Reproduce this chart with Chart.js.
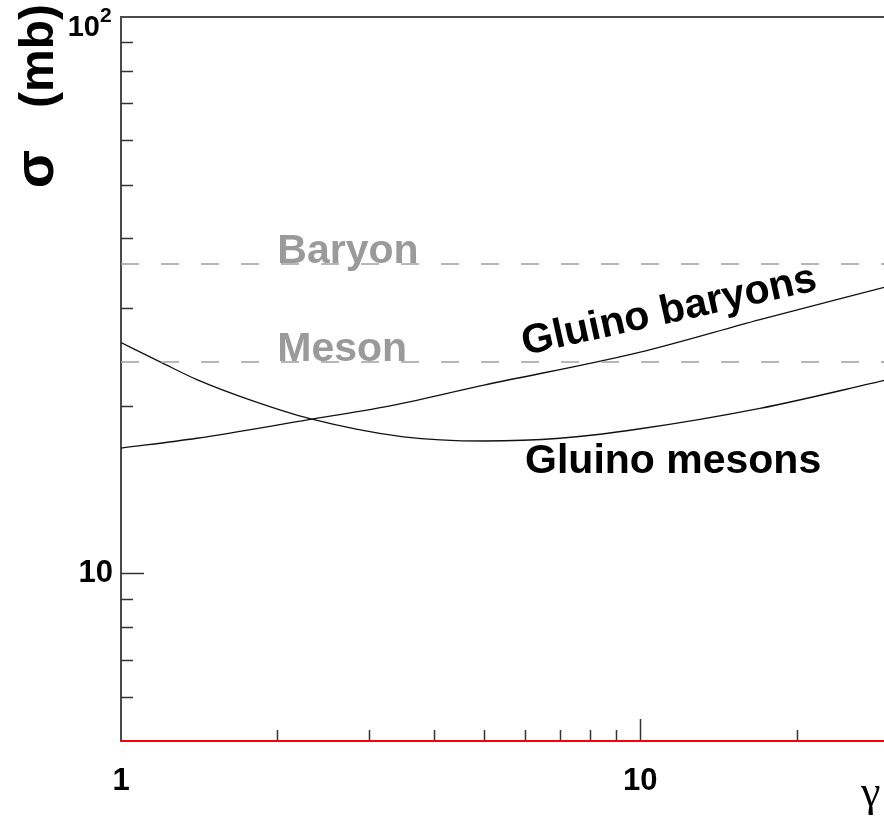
<!DOCTYPE html>
<html>
<head>
<meta charset="utf-8">
<script src="https://cdn.jsdelivr.net/npm/chart.js@4"></script>
<style>
html, body { margin: 0; padding: 0; background: #fff; overflow: hidden; }
#wrap { width: 890px; height: 821px; }
</style>
</head>
<body>
<div id="wrap"><canvas id="sigmaChart"></canvas></div>
<script>
// values (gamma on x, sigma in mb on y)
const mesonGamma = [1, 1.2, 1.4, 1.8, 2.3, 3.5, 5, 7, 10, 17, 30];
const mesonSigma = [26.0, 23.9, 22.3, 20.4, 19.0, 17.6, 17.3, 17.5, 18.2, 19.8, 22.3];
const baryonGamma = [1, 1.4, 2.3, 3.2, 5, 10, 17, 30];
const baryonSigma = [16.8, 17.5, 18.9, 19.9, 21.8, 25.0, 28.6, 32.8];
const baryonLevel = 36;
const mesonLevel = 24;
const gammaRange = [1, 30];
const sigmaRange = [5, 100];
const xTickValues = [1, 2, 3, 4, 5, 6, 7, 8, 9, 10, 20, 30];
const yTickValues = [5, 6, 7, 8, 9, 10, 20, 30, 40, 50, 60, 70, 80, 90, 100];

// text labels anchored in data units
const labels = [
    { text: 'Baryon', x: 2.0, y: baryonLevel, color: '#9a9a9a', angle: 0 },
    { text: 'Meson', x: 2.0, y: mesonLevel, color: '#9a9a9a', angle: 0 },
    { text: 'Gluino mesons', x: 6.0, y: 15.1, color: '#000', angle: 0 },
    { text: 'Gluino baryons', x: 6.0, y: 24.6, color: '#000', angle: -12.5 }
];

function toPoints(xs, ys) {
    return xs.map((x, i) => ({ x: x, y: ys[i] }));
}

function flatLine(level) {
    return gammaRange.map(x => ({ x: x, y: level }));
}

const isDecade = v => Math.abs(Math.log10(v) - Math.round(Math.log10(v))) < 1e-9;
const FONT = '"Liberation Sans", Arial, sans-serif';

const frameAndText = {
    id: 'frameAndText',
    beforeDatasetsDraw(chart) {
        const { ctx, chartArea: a, scales } = chart;
        ctx.save();
        ctx.strokeStyle = '#4a4a4a';
        ctx.lineWidth = 2;
        ctx.beginPath();
        ctx.moveTo(a.left, a.top);
        ctx.lineTo(a.right, a.top);
        ctx.lineTo(a.right, a.bottom);
        ctx.lineTo(a.left, a.bottom);
        ctx.closePath();
        ctx.stroke();

        ctx.lineWidth = 1.5;
        ctx.strokeStyle = '#333';
        ctx.beginPath();
        xTickValues.forEach(v => {
            if (v <= gammaRange[0] || v >= gammaRange[1]) return;
            const px = Math.round(scales.x.getPixelForValue(v)) + 0.5;
            const len = isDecade(v) ? 22 : 11;
            ctx.moveTo(px, a.bottom);
            ctx.lineTo(px, a.bottom - len);
        });
        yTickValues.forEach(v => {
            if (v <= sigmaRange[0] || v >= sigmaRange[1]) return;
            const py = Math.round(scales.y.getPixelForValue(v)) + 0.5;
            const len = isDecade(v) ? 23 : 12;
            ctx.moveTo(a.left, py);
            ctx.lineTo(a.left + len, py);
        });
        ctx.stroke();
        ctx.restore();
    },
    afterDatasetsDraw(chart) {
        const { ctx, scales } = chart;
        ctx.save();
        ctx.font = 'bold 41px ' + FONT;
        ctx.textBaseline = 'alphabetic';
        labels.forEach(l => {
            const px = scales.x.getPixelForValue(l.x);
            const py = scales.y.getPixelForValue(l.y);
            ctx.save();
            ctx.translate(px, py);
            ctx.rotate(l.angle * Math.PI / 180);
            ctx.fillStyle = l.color;
            ctx.textAlign = 'left';
            ctx.fillText(l.text, 0, -1);
            ctx.restore();
        });

        // top label 10^2 with a real superscript
        ctx.fillStyle = '#000';
        const top = scales.y.getPixelForValue(sigmaRange[1]);
        ctx.textAlign = 'right';
        ctx.font = 'bold 29px ' + FONT;
        ctx.fillText('10', 100, top + 19);
        ctx.textAlign = 'left';
        ctx.font = 'bold 21px ' + FONT;
        ctx.fillText('2', 100, top + 5);

        // axis titles
        ctx.save();
        ctx.translate(53, 4);
        ctx.rotate(-Math.PI / 2);
        ctx.textAlign = 'right';
        ctx.font = 'bold 48px ' + FONT;
        ctx.fillText('(mb)', 0, 0);
        ctx.font = 'bold 56px ' + FONT;
        ctx.fillText('σ', -146, 0);
        ctx.restore();

        ctx.font = '44px "Liberation Serif", "Times New Roman", serif';
        ctx.textAlign = 'left';
        ctx.fillText('γ', 861, 806);
        ctx.restore();
    }
};

const ctx = document.getElementById('sigmaChart').getContext('2d');
new Chart(ctx, {
    type: 'line',
    data: {
        datasets: [
            {
                label: 'Baryon',
                data: flatLine(baryonLevel),
                borderColor: '#a0a0a0',
                borderWidth: 1.5,
                borderDash: [18, 22],
                pointRadius: 0
            },
            {
                label: 'Meson',
                data: flatLine(mesonLevel),
                borderColor: '#a0a0a0',
                borderWidth: 1.5,
                borderDash: [18, 22],
                pointRadius: 0
            },
            {
                label: 'Gluino mesons',
                data: toPoints(mesonGamma, mesonSigma),
                borderColor: '#111',
                borderWidth: 1.3,
                cubicInterpolationMode: 'monotone',
                pointRadius: 0
            },
            {
                label: 'Gluino baryons',
                data: toPoints(baryonGamma, baryonSigma),
                borderColor: '#111',
                borderWidth: 1.3,
                cubicInterpolationMode: 'monotone',
                pointRadius: 0
            },
            {
                label: 'floor',
                data: flatLine(sigmaRange[0]),
                borderColor: '#ff0000',
                borderWidth: 2,
                pointRadius: 0,
                clip: false
            }
        ]
    },
    plugins: [frameAndText],
    options: {
        responsive: true,
        maintainAspectRatio: false,
        animation: false,
        layout: { padding: { top: 17, right: 2, left: 0, bottom: 0 } },
        plugins: {
            legend: { display: false },
            tooltip: { enabled: false }
        },
        scales: {
            x: {
                type: 'logarithmic',
                min: gammaRange[0],
                max: gammaRange[1],
                grid: { display: false, drawTicks: false },
                border: { display: false },
                afterBuildTicks: scale => {
                    scale.ticks = xTickValues.map(v => ({ value: v }));
                },
                afterFit: scale => {
                    scale.height = 80;
                    scale.paddingLeft = 0;
                    scale.paddingRight = 0;
                },
                ticks: {
                    autoSkip: false,
                    maxRotation: 0,
                    padding: 22,
                    color: '#000',
                    font: { family: FONT, size: 31, weight: 'bold' },
                    callback: v => (v === 1 || v === 10) ? String(v) : ''
                }
            },
            y: {
                type: 'logarithmic',
                min: sigmaRange[0],
                max: sigmaRange[1],
                grid: { display: false, drawTicks: false },
                border: { display: false },
                afterBuildTicks: scale => {
                    scale.ticks = yTickValues.map(v => ({ value: v }));
                },
                afterFit: scale => {
                    scale.width = 121;
                    scale.paddingTop = 0;
                    scale.paddingBottom = 0;
                },
                ticks: {
                    autoSkip: false,
                    padding: 8,
                    color: '#000',
                    font: { family: FONT, size: 31, weight: 'bold' },
                    callback: v => v === 10 ? '10' : ''
                }
            }
        }
    }
});
</script>
</body>
</html>
